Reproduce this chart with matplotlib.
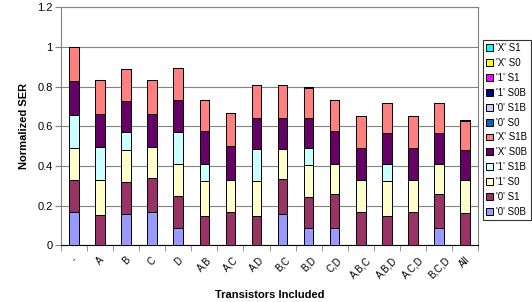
import matplotlib
matplotlib.use("Agg")
import matplotlib.pyplot as plt
import numpy as np

plt.rcParams['font.family'] = ['Liberation Sans', 'DejaVu Sans']

categories = ['-', 'A', 'B', 'C', 'D', 'A,B', 'A,C', 'A,D', 'B,C', 'B,D', 'C,D',
              'A,B,C', 'A,B,D', 'A,C,D', 'B,C,D', 'All']

# stacked bottom -> top
s_0_S0B = [0.167, 0, 0.160, 0.167, 0.089, 0, 0, 0, 0.160, 0.086, 0.086, 0, 0, 0, 0.086, 0]
s_0_S1 = [0.161, 0.153, 0.158, 0.173, 0.158, 0.149, 0.167, 0.149, 0.173, 0.159, 0.173, 0.167, 0.149, 0.167, 0.173, 0.162]
s_1_S0 = [0.163, 0.175, 0.162, 0.155, 0.162, 0.176, 0.163, 0.176, 0.152, 0.159, 0.153, 0.163, 0.176, 0.163, 0.153, 0.166]
s_1_S1B = [0.167, 0.167, 0.089, 0, 0.160, 0.087, 0, 0.160, 0, 0.087, 0, 0, 0.087, 0, 0, 0]
s_X_S0B = [0.170, 0.167, 0.161, 0.167, 0.165, 0.162, 0.170, 0.159, 0.159, 0.153, 0.162, 0.159, 0.154, 0.163, 0.154, 0.152]
s_X_S1B = [0.172, 0.169, 0.160, 0.169, 0.158, 0.158, 0.167, 0.162, 0.162, 0.149, 0.160, 0.162, 0.151, 0.158, 0.151, 0.149]
s_0_S0 = [0] * 16
s_0_S1B = [0] * 16
s_1_S0B = [0, 0, 0, 0, 0, 0, 0, 0, 0, 0.005, 0, 0, 0, 0, 0, 0.005]
s_1_S1 = [0] * 16
s_X_S0 = [0] * 16
s_X_S1 = [0] * 16

series = [
    ("'0' S0B", s_0_S0B, '#9999FF'),
    ("'0' S1", s_0_S1, '#993366'),
    ("'1' S0", s_1_S0, '#FFFFCC'),
    ("'1' S1B", s_1_S1B, '#CCFFFF'),
    ("'X' S0B", s_X_S0B, '#660066'),
    ("'X' S1B", s_X_S1B, '#FF8080'),
    ("'0' S0", s_0_S0, '#0066CC'),
    ("'0' S1B", s_0_S1B, '#CCCCFF'),
    ("'1' S0B", s_1_S0B, '#000080'),
    ("'1' S1", s_1_S1, '#FF00FF'),
    ("'X' S0", s_X_S0, '#FFFF00'),
    ("'X' S1", s_X_S1, '#00FFFF'),
]

fig = plt.figure(figsize=(5.32, 3.02), dpi=100)
ax = fig.add_axes([0.1147, 0.1877, 0.7838, 0.7881])

x = np.arange(len(categories))
bottom = np.zeros(len(categories))
handles = []
for name, vals, col in series:
    vals = np.array(vals, dtype=float)
    h = ax.bar(x, vals, 0.37, bottom=bottom, color=col, edgecolor='black',
               linewidth=0.7, label=name, zorder=3)
    handles.append(h)
    bottom += vals

ax.set_xlim(-0.5, len(categories) - 0.5)
ax.set_ylim(0, 1.2)
ax.set_yticks(np.arange(0, 1.21, 0.2))
ax.set_yticklabels(['0', '0.2', '0.4', '0.6', '0.8', '1', '1.2'], fontsize=8)
ax.yaxis.grid(True, color='#808080', linewidth=0.8, zorder=0)

ax.set_xticks(x)
ax.set_xticklabels(categories, rotation=45, fontsize=7, ha='center')
ax.tick_params(axis='x', length=0, pad=7)
ax.set_xticks(np.arange(-0.5, len(categories), 1), minor=True)
ax.tick_params(axis='x', which='minor', length=4, direction='out', color='#808080')
ax.tick_params(axis='y', length=4, direction='out', color='#808080', pad=2)

for side in ['top', 'right']:
    ax.spines[side].set_color('#808080')
ax.spines['left'].set_color('#808080')
ax.spines['bottom'].set_color('black')

ax.set_ylabel('Normalized SER', fontsize=8, fontweight='bold', labelpad=6)
ax.set_xlabel('Transistors Included', fontsize=8, fontweight='bold', labelpad=7)

leg = fig.legend(handles[::-1], [s[0] for s in series][::-1], loc='upper left',
                 bbox_to_anchor=(0.908, 0.868), fontsize=7, frameon=True,
                 fancybox=False, edgecolor='black', handlelength=0.7,
                 handleheight=0.7, handletextpad=0.3, borderpad=0.35,
                 labelspacing=0.5, borderaxespad=0)
leg.get_frame().set_linewidth(0.8)

fig.savefig('out.png', dpi=100)
